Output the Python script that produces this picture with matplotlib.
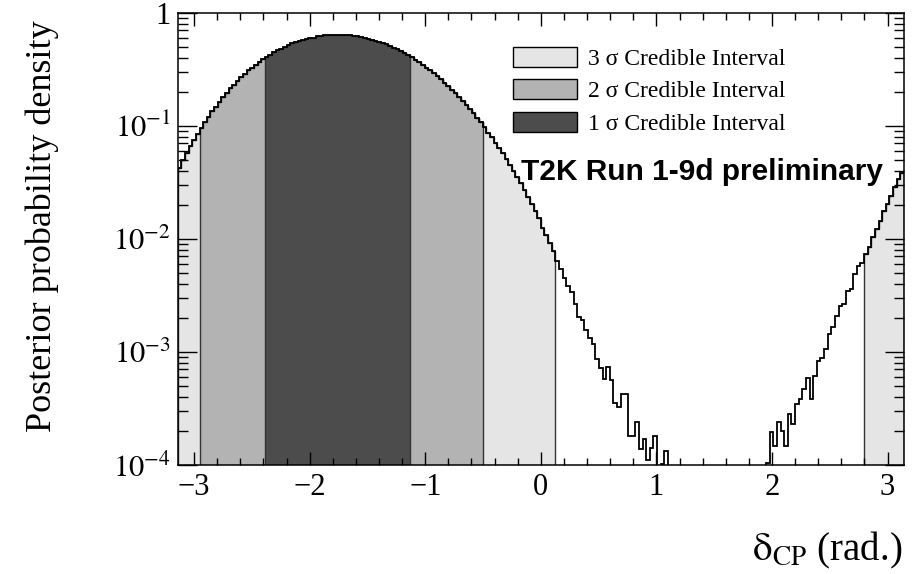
import numpy as np
import matplotlib
matplotlib.use("Agg")
import matplotlib.pyplot as plt
from matplotlib.patches import Patch
from matplotlib.ticker import FixedLocator, LogLocator, MultipleLocator, NullFormatter

# posterior for delta_CP, 200 equal bins over [-pi, pi]; log10 of density, None = empty bin
n_bins = 200
log10_density = [
    -1.37, -1.30, -1.24, -1.18, -1.13, -1.07, -1.02, -0.97, -0.92, -0.87,
    -0.83, -0.79, -0.75, -0.71, -0.67, -0.64, -0.60, -0.57, -0.54, -0.51,
    -0.49, -0.46, -0.44, -0.41, -0.39, -0.37, -0.35, -0.33, -0.32, -0.30,
    -0.29, -0.27, -0.26, -0.25, -0.24, -0.23, -0.22, -0.22, -0.21, -0.205,
    -0.20, -0.198, -0.196, -0.195, -0.195, -0.196, -0.198, -0.20, -0.205, -0.21,
    -0.215, -0.22, -0.23, -0.24, -0.25, -0.26, -0.27, -0.28, -0.295, -0.31,
    -0.325, -0.34, -0.36, -0.375, -0.395, -0.415, -0.44, -0.46, -0.485, -0.51,
    -0.535, -0.56, -0.59, -0.62, -0.65, -0.68, -0.71, -0.745, -0.78, -0.815,
    -0.855, -0.89, -0.93, -0.97, -1.015, -1.06, -1.10, -1.15, -1.20, -1.245,
    -1.295, -1.35, -1.40, -1.455, -1.51, -1.57, -1.63, -1.69, -1.75, -1.82,
    -1.90, -1.97, -2.04, -2.11, -2.20, -2.27, -2.35, -2.42, -2.47, -2.58,
    -2.69, -2.72, -2.81, -2.88, -2.93, -3.06, -3.14, -3.24, -3.13, -3.25,
    -3.45, -3.49, -3.37, -3.37, -3.74, -3.74, -3.62, -3.86, -3.77, -3.96,
    -3.85, -3.74, None, -3.99, -3.88, None, None, None, None, None,
    None, None, None, None, None, None, None, None, None, None,
    None, None, None, None, None, None, None, None, None, None,
    None, None, -3.98, -3.71, -3.83, -3.62, -3.70, -3.83, -3.55, -3.64,
    -3.46, -3.42, -3.33, -3.23, -3.42, -3.21, -3.08, -3.05, -2.97, -2.84,
    -2.78, -2.68, -2.59, -2.575, -2.46, -2.44, -2.31, -2.24, -2.21, -2.13,
    -2.07, -1.98, -1.91, -1.84, -1.75, -1.69, -1.62, -1.54, -1.47, -1.42,
]

# credible intervals as half-open bin index ranges
three_sigma_bins = [(0, 104), (189, 200)]
two_sigma_bins = [(6, 84)]
one_sigma_bins = [(24, 64)]

interval_labels = ["3 σ Credible Interval", "2 σ Credible Interval", "1 σ Credible Interval"]
interval_colors = ["#e5e5e5", "#b3b3b3", "#4c4c4c"]

y_ticks = [1e-4, 1e-3, 1e-2, 1e-1, 1.0]
y_tick_labels = [r"$10^{-4}$", r"$10^{-3}$", r"$10^{-2}$", r"$10^{-1}$", "1"]
x_ticks = [-3, -2, -1, 0, 1, 2, 3]
x_tick_labels = ["\u22123", "\u22122", "\u22121", "0", "1", "2", "3"]

plt.rcParams["font.family"] = ["Liberation Serif", "DejaVu Serif"]
plt.rcParams["mathtext.fontset"] = "stix"

edges = np.linspace(-np.pi, np.pi, n_bins + 1)
density = np.array([0.0 if v is None else 10.0 ** v for v in log10_density])
floor = 1e-4

fig = plt.figure(figsize=(9.17, 5.74), dpi=100)
ax = fig.add_axes([0.1938, 0.1899, 0.792, 0.788])
ax.set_yscale("log")

for ranges, color in zip(
    (three_sigma_bins, two_sigma_bins, one_sigma_bins), interval_colors
):
    for lo, hi in ranges:
        ax.stairs(
            density[lo:hi],
            edges[lo:hi + 1],
            baseline=floor,
            fill=True,
            facecolor=color,
            edgecolor="#333333",
            linewidth=1.0,
        )

outline = np.where(density > 0, density, 1e-9)
ax.stairs(outline, edges, baseline=None, color="black", linewidth=1.3)

ax.set_xlim(-np.pi, np.pi)
ax.set_ylim(1e-4, 1.0)

ax.xaxis.set_major_locator(FixedLocator(x_ticks))
ax.set_xticklabels(x_tick_labels)
ax.xaxis.set_minor_locator(MultipleLocator(0.2))
ax.yaxis.set_major_locator(FixedLocator(y_ticks))
ax.set_yticklabels(y_tick_labels)
ax.yaxis.set_minor_locator(LogLocator(base=10, subs=np.arange(2, 10)))
ax.yaxis.set_minor_formatter(NullFormatter())

ax.tick_params(which="both", direction="in", top=True, right=True,
               labelsize=22, width=1.0)
ax.tick_params(axis="x", which="major", length=9.5, pad=6)
ax.tick_params(axis="x", which="minor", length=5)
ax.tick_params(axis="y", which="major", length=14, pad=5)
ax.tick_params(axis="y", which="minor", length=7)
for spine in ax.spines.values():
    spine.set_linewidth(1.1)

handles = [
    Patch(facecolor=c, edgecolor="black", linewidth=1.0, label=l)
    for c, l in zip(interval_colors, interval_labels)
]
ax.legend(
    handles=handles,
    loc="upper left",
    bbox_to_anchor=(0.462, 0.925),
    frameon=False,
    fontsize=17,
    handlelength=2.7,
    handleheight=0.93,
    handletextpad=0.45,
    labelspacing=0.4,
    borderpad=0,
    borderaxespad=0,
)

ax.text(0.472, 0.6305, "T2K Run 1-9d preliminary", transform=ax.transAxes,
        family=["Liberation Sans", "DejaVu Sans"], fontweight="bold",
        fontsize=21.5, va="baseline", ha="left")

fig.text(42 / 917, 1 - 20 / 574, "Posterior probability density",
         rotation=90, ha="center", va="top", fontsize=26)
fig.text(902 / 917, 1 - 560 / 574, r"$\mathrm{\delta}_{\mathrm{CP}}$ (rad.)",
         ha="right", va="baseline", fontsize=28)

fig.savefig("out.png", dpi=100, facecolor="white")
